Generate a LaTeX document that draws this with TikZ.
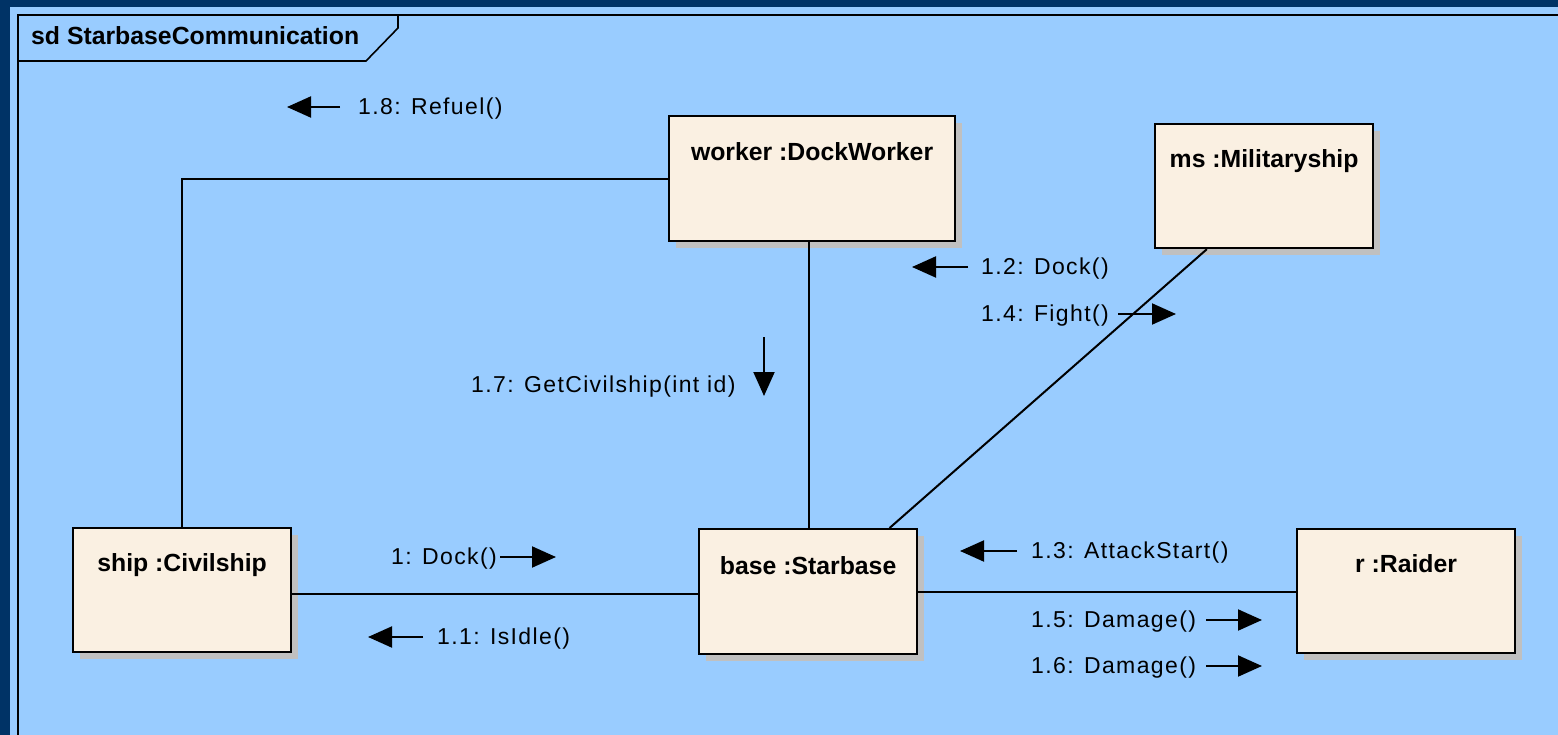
\documentclass[tikz,border=0pt]{standalone}
\usepackage{fontspec}
\setmainfont{Liberation Sans}
\newfontfamily\msgfont[LetterSpace=6]{Liberation Sans}
\usetikzlibrary{arrows.meta,calc,shadows}
\definecolor{navy}{HTML}{003366}
\definecolor{skyblue}{HTML}{99CCFF}
\definecolor{boxfill}{HTML}{FAF0E2}
\definecolor{shadowgray}{HTML}{C0C0C0}
\begin{document}
\begin{tikzpicture}[x=1pt,y=-1pt,
  objbox/.style={draw=black, line width=2.2pt, fill=boxfill, inner sep=0pt,
    minimum width=218pt, minimum height=124pt, anchor=north west,
    drop shadow={opacity=1, fill=shadowgray, shadow xshift=7pt, shadow yshift=-7pt}},
  objlabel/.style={font=\fontsize{24.8}{29}\selectfont\bfseries, inner sep=0pt, anchor=center},
  msg/.style={font=\msgfont\fontsize{23}{27}\selectfont, inner sep=0pt, anchor=west},
  conn/.style={draw=black, line width=2pt},
  msgarrow/.style={draw=black, line width=2pt, -{Triangle[length=24pt,width=21pt]}},
]
\useasboundingbox (0,0) rectangle (1558,735);
\fill[navy] (0,0) rectangle (1558,735);
\fill[skyblue] (10,7) rectangle (1558,735);
% frame
\draw[line width=1.6pt] (18,740) -- (18,15) -- (1565,15);
\draw[line width=1.6pt] (18,61) -- (366,61) -- (398,28) -- (398,15);
\node[font=\fontsize{24.8}{29}\selectfont\bfseries, inner sep=0pt, anchor=west] (title) at (31,36) {sd StarbaseCommunication};

% boxes
\node[objbox, minimum width=286pt, minimum height=125pt] (worker) at (668,115) {};
\node[objbox, minimum width=218pt, minimum height=124pt] (ms) at (1154,123) {};
\node[objbox, minimum width=218pt, minimum height=124pt] (ship) at (72,527) {};
\node[objbox, minimum width=218pt, minimum height=125pt] (base) at (698,528) {};
\node[objbox, minimum width=218pt, minimum height=124pt] (raider) at (1296,528) {};

\node[objlabel] (workerlbl) at ($(worker.north)+(0,37)$) {worker :DockWorker};
\node[objlabel] (mslbl) at ($(ms.north)+(0,38)$) {ms :Militaryship};
\node[objlabel] (shiplbl) at ($(ship.north)+(0,38)$) {ship :Civilship};
\node[objlabel] (baselbl) at ($(base.north)+(0,38)$) {base :Starbase};
\node[objlabel] (raiderlbl) at ($(raider.north)+(0,36)$) {r :Raider};

% connectors
\coordinate (shipE) at ($(ship.east)+(0,4)$);
\coordinate (baseN) at ($(base.north)+(1,0)$);
\coordinate (msS) at ($(ms.south west)!0.24!(ms.south east)$);
\coordinate (baseNE) at ($(base.north west)!0.87!(base.north east)$);
\draw[conn] (shipE) -- (shipE -| base.west);
\draw[conn] (base.east) -- (base.east -| raider.west);
\draw[conn] (baseN) -- (baseN |- worker.south);
\draw[conn] (worker.west) -| (ship.north);
\draw[conn] (msS) -- (baseNE);

% messages
\coordinate (r8a) at (340,107); \coordinate (r8b) at (287,107);
\draw[msgarrow] (r8a) -- (r8b);
\node[msg] (m18) at (358,109) {1.8: Refuel()};

\coordinate (d2a) at (968,267); \coordinate (d2b) at (912,267);
\draw[msgarrow] (d2a) -- (d2b);
\node[msg] (m12) at (981,269) {1.2: Dock()};

\node[msg] (m14) at (981,316) {1.4: Fight()};
\coordinate (f4a) at (1118,314); \coordinate (f4b) at (1176,314);
\draw[msgarrow] (f4a) -- (f4b);

\node[msg] (m17) at (471,387) {1.7: GetCivilship(int id)};
\coordinate (g7a) at (764,337); \coordinate (g7b) at (764,396);
\draw[msgarrow] (g7a) -- (g7b);

\node[msg] (m1) at (391,559) {1: Dock()};
\coordinate (d1a) at (500,557); \coordinate (d1b) at (556,557);
\draw[msgarrow] (d1a) -- (d1b);

\coordinate (i1a) at (423,637); \coordinate (i1b) at (368,637);
\draw[msgarrow] (i1a) -- (i1b);
\node[msg] (m11) at (437,639) {1.1: IsIdle()};

\coordinate (a3a) at (1017,551); \coordinate (a3b) at (960,551);
\draw[msgarrow] (a3a) -- (a3b);
\node[msg] (m13) at (1031,553) {1.3: AttackStart()};

\node[msg] (m15) at (1031,622) {1.5: Damage()};
\coordinate (d5a) at (1206,620); \coordinate (d5b) at (1262,620);
\draw[msgarrow] (d5a) -- (d5b);

\node[msg] (m16) at (1031,668) {1.6: Damage()};
\coordinate (d6a) at (1206,666); \coordinate (d6b) at (1262,666);
\draw[msgarrow] (d6a) -- (d6b);
\end{tikzpicture}
\end{document}
